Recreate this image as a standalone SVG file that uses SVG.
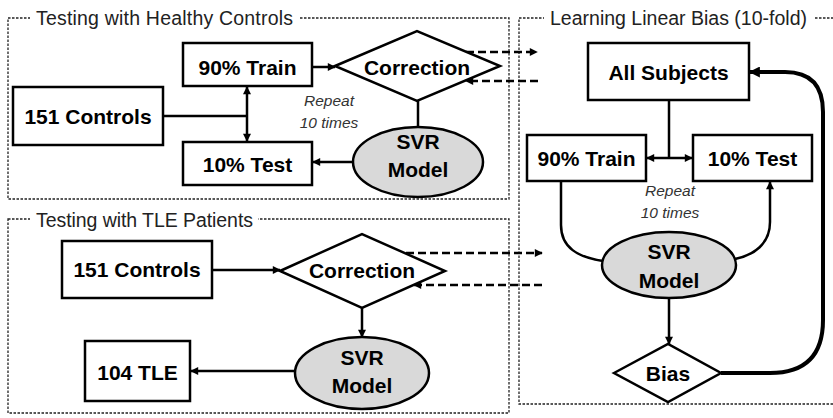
<svg xmlns="http://www.w3.org/2000/svg" width="833" height="418" viewBox="0 0 833 418">
<style>
.panel{fill:none;stroke:#222;stroke-width:1.3;stroke-dasharray:2.5 1.5}
.tbg{fill:#fff;stroke:none}
.title{font-family:"Liberation Sans",Arial,sans-serif;font-size:19.5px;fill:#222}
.box{fill:#fff;stroke:#000;stroke-width:2.5}
.ell{fill:#d9d9d9;stroke:#000;stroke-width:2.5}
.lbl{font-family:"Liberation Sans",Arial,sans-serif;font-size:21px;font-weight:bold;fill:#000;text-anchor:middle}
.rep{font-family:"Liberation Sans",Arial,sans-serif;font-size:15.5px;font-style:italic;fill:#333;text-anchor:middle}
.ln{fill:none;stroke:#000;stroke-width:2.5}
.thick{fill:none;stroke:#000;stroke-width:4}
.dash{fill:none;stroke:#000;stroke-width:2.5;stroke-dasharray:8 4}
</style>
<defs>
<marker id="ah" markerUnits="userSpaceOnUse" markerWidth="9" markerHeight="8" viewBox="0 0 10 10" refX="9" refY="5" orient="auto-start-reverse">
<path d="M0,0 L10,5 L0,10 z" fill="#000"/>
</marker>
<marker id="ahb" markerUnits="userSpaceOnUse" markerWidth="12" markerHeight="11" viewBox="0 0 10 10" refX="9" refY="5" orient="auto-start-reverse">
<path d="M0,0 L10,5 L0,10 z" fill="#000"/>
</marker>
</defs>

<g id="panels">
<rect class="panel" x="8" y="18" width="501" height="181"/>
<rect class="tbg" x="30" y="6" width="270" height="26"/>
<text class="title" x="36" y="25" textLength="257">Testing with Healthy Controls</text>
<rect class="panel" x="8" y="219" width="501" height="194"/>
<rect class="tbg" x="30" y="207" width="228" height="26"/>
<text class="title" x="36" y="227" textLength="217">Testing with TLE Patients</text>
<rect class="panel" x="519" y="18" width="330" height="386"/>
<rect class="tbg" x="544" y="6" width="270" height="26"/>
<text class="title" x="550" y="25" textLength="257">Learning Linear Bias (10-fold)</text>
</g>

<g id="connectors">
<line class="ln" x1="163" y1="116" x2="247" y2="116"/>
<line class="ln" x1="247" y1="87" x2="247" y2="141" marker-start="url(#ah)" marker-end="url(#ah)"/>
<line class="ln" x1="312" y1="67" x2="335" y2="67" marker-end="url(#ah)"/>
<line class="ln" x1="418" y1="101" x2="418" y2="127"/>
<line class="ln" x1="353" y1="162" x2="313" y2="162" marker-end="url(#ah)"/>
<line class="dash" x1="466" y1="52" x2="537" y2="52" marker-end="url(#ah)"/>
<line class="dash" x1="538" y1="81" x2="466" y2="81" marker-end="url(#ah)"/>

<line class="ln" x1="212" y1="270" x2="280" y2="270" marker-end="url(#ah)"/>
<line class="ln" x1="362" y1="308" x2="362" y2="337" marker-end="url(#ah)"/>
<line class="ln" x1="295" y1="371" x2="191" y2="371" marker-end="url(#ah)"/>
<line class="dash" x1="406" y1="253" x2="542" y2="253" marker-end="url(#ah)"/>
<line class="dash" x1="542" y1="285" x2="414" y2="285" marker-end="url(#ah)"/>

<line class="ln" x1="669" y1="100" x2="669" y2="158"/>
<line class="ln" x1="647" y1="158" x2="692" y2="158" marker-start="url(#ah)" marker-end="url(#ah)"/>
<path class="ln" d="M561,181 V225 C561,248 578,257 603,261"/>
<path class="ln" d="M735,259 C754,255 770,244 770,222 V182" marker-end="url(#ah)"/>
<line class="ln" x1="669" y1="298" x2="669" y2="344" marker-end="url(#ah)"/>
<path class="thick" d="M721,373 H770 Q823,373 823,320 V112 Q823,72 785,72 H750" marker-end="url(#ahb)"/>
</g>

<g id="train1"><rect class="box" x="183" y="43" width="129" height="43"/><text class="lbl" x="247.5" y="75">90% Train</text></g>
<g id="correction1"><polygon class="box" points="335,66 417,31 500,66 417,101"/><text class="lbl" x="417" y="75">Correction</text></g>
<g id="controls1"><rect class="box" x="13" y="87" width="150" height="58"/><text class="lbl" x="88" y="124">151 Controls</text></g>
<g id="test1"><rect class="box" x="183" y="142" width="129" height="43"/><text class="lbl" x="247.5" y="172">10% Test</text></g>
<g id="svr1"><ellipse class="ell" cx="418" cy="162" rx="65" ry="35"/><text class="lbl" x="418" y="149">SVR</text><text class="lbl" x="418" y="177">Model</text></g>
<g id="repeat1"><text class="rep" x="329" y="106">Repeat</text><text class="rep" x="329" y="128">10 times</text></g>

<g id="controls2"><rect class="box" x="62" y="241" width="150" height="57"/><text class="lbl" x="137" y="277">151 Controls</text></g>
<g id="correction2"><polygon class="box" points="280,271 362,234 445,271 362,308"/><text class="lbl" x="362" y="278">Correction</text></g>
<g id="svr2"><ellipse class="ell" cx="362" cy="373" rx="67" ry="36"/><text class="lbl" x="362" y="365">SVR</text><text class="lbl" x="362" y="393">Model</text></g>
<g id="tle"><rect class="box" x="85" y="341" width="105" height="60"/><text class="lbl" x="137.5" y="380">104 TLE</text></g>

<g id="all"><rect class="box" x="588" y="43" width="161" height="57"/><text class="lbl" x="668.5" y="80">All Subjects</text></g>
<g id="train2"><rect class="box" x="527" y="135" width="119" height="46"/><text class="lbl" x="586.5" y="166">90% Train</text></g>
<g id="test2"><rect class="box" x="693" y="135" width="119" height="46"/><text class="lbl" x="752.5" y="166">10% Test</text></g>
<g id="svr3"><ellipse class="ell" cx="669" cy="265" rx="67" ry="33"/><text class="lbl" x="669" y="259">SVR</text><text class="lbl" x="669" y="288">Model</text></g>
<g id="bias"><polygon class="box" points="614,373 668,344 721,373 668,402"/><text class="lbl" x="668" y="381">Bias</text></g>
<g id="repeat2"><text class="rep" x="670" y="196">Repeat</text><text class="rep" x="670" y="218">10 times</text></g>
</svg>
